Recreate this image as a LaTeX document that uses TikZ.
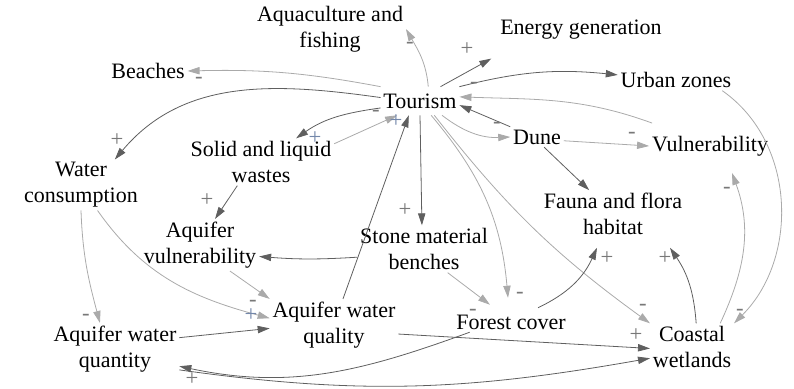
\documentclass[tikz,border=0pt]{standalone}
\usepackage{fontspec}
\setmainfont{Liberation Serif}
\usepackage{xcolor}
\usepackage{tikz}
\usetikzlibrary{
  arrows.meta
}

\begin{document}
\begin{tikzpicture}[
  x=0.75pt, y=0.75pt,
  every node/.style={font=\fontsize{16.5}{19.5}\selectfont},
  var/.style={align=center, inner sep=2pt},
  dark/.style={draw=cDark, line width=0.6pt, -{Triangle[length=9pt,width=5.5pt]}},
  light/.style={draw=cLight, line width=0.6pt, -{Triangle[length=9pt,width=5.5pt]}},
  sgn/.style={font=\fontsize{17}{17}\selectfont, text=cSign, inner sep=0pt},
  sgnb/.style={sgn, text=cSignB}
]
  % colours of links and polarity signs
  \definecolor{cDark}{RGB}{95,95,95}
  \definecolor{cLight}{RGB}{170,170,170}
  \definecolor{cSign}{RGB}{120,120,120}
  \definecolor{cSignB}{RGB}{115,135,170}

  \useasboundingbox (0,0) rectangle (794,389);

  % variables
  \node[var] (aqua) at (330,360) {Aquaculture and\\fishing};
  \node[var] (energy) at (581,359) {Energy generation};
  \node[var] (beach) at (148,318) {Beaches};
  \node[var] (urban) at (676,309) {Urban zones};
  \node[var, inner ysep=5pt] (tour) at (420,288) {Tourism};
  \node[var] (waste) at (261,227) {Solid and liquid\\wastes};
  \node[var] (water) at (81,204) {Water\\consumption};
  \node[var] (dune) at (537,252) {Dune};
  \node[var] (vuln) at (710,243) {Vulnerability};
  \node[var] (fauna) at (613,175) {Fauna and flora\\habitat};
  \node[var] (avul) at (200,144) {Aquifer\\vulnerability};
  \node[var] (stone) at (424,140) {Stone material\\benches};
  \node[var] (aqual) at (334,64) {Aquifer water\\quality};
  \node[var] (aquan) at (115,40) {Aquifer water\\quantity};
  \node[var] (forest) at (511,67) {Forest cover};
  \node[var] (coast) at (692,42) {Coastal\\wetlands};

  % links out of Tourism
  \draw[light] (tour.60) to[out=95,in=-60] (aqua.east);
  \draw[dark] (tour.35) -- ([shift={(-6,-16)}]energy.south west);
  \draw[light] (tour.north west) to[bend right=6] (beach.east);
  \draw[dark] (tour.175) to[out=172,in=50] (water.37);
  \draw[dark] (tour.190) to[out=188,in=35] (waste.34);
  \draw[dark] (tour.north east) to[bend left=10] (urban.175);
  \draw[light] (tour.-33) to[bend right=20] (dune.west);
  \draw[dark] (tour.south) -- (stone.95);
  \draw[light] (tour.-52) to[out=-50,in=95] ([shift={(-3,14)}]forest.north);
  \draw[light] (tour.-45) to[bend right=8] (coast.north west);

  % links into Tourism
  \draw[light] (waste.14) -- (tour.212);
  \draw[light] ([shift={(3,10)}]vuln.north west) to[out=160,in=-2] (tour.6);
  \draw[dark] (dune.north west) -- (tour.-6);
  \draw[dark] (aqual.71) -- (tour.-128);

  % other links
  \draw[dark] (dune.-55) -- (fauna.135);
  \draw[light] (dune.-8) -- (vuln.west);
  \draw[dark] (stone.187) to[bend left=4] (avul.-11);
  \draw[light] (stone.-45) -- ([shift={(-21,7)}]forest.north);
  \draw[dark] (waste.-135) -- (avul.60);
  \draw[light] (water.south) to[out=-88,in=105] (aquan.120);
  \draw[light] (water.-57) to[out=-55,in=165] (aqual.174);
  \draw[light] (avul.-41) -- (aqual.north west);
  \draw[dark] (aquan.10) -- (aqual.183);
  \draw[dark] (aqual.-8) -- (coast.182);
  \draw[dark] ([xshift=-31]forest.south) to[out=200,in=-12] (aquan.-15);
  \draw[dark] (aquan.-18) to[out=-8,in=190] (coast.195);
  \draw[dark] ([shift={(27,4)}]forest.north) to[bend right=20] ([shift={(-16,-10)}]fauna.south);
  \draw[dark] (coast.80) to[bend right=15] ([shift={(57,-10)}]fauna.south);
  \draw[light] (coast.40) to[out=65,in=-70] ([shift={(22,-14)}]vuln.south);
  \draw[light] (urban.-13) to[out=-35,in=45] (coast.north east);

  % polarity signs
  \node[sgn] (sAqua) at (410,344) {-};
  \node[sgn] (sEnergy) at (467,340) {+};
  \node[sgn] (sUrban) at (474,304) {-};
  \node[sgn] (sBeach) at (199,309) {-};
  \node[sgn] (sWasteA) at (376,276) {-};
  \node[sgnb] (sTourA) at (396,268) {+};
  \node[sgnb] (sTourB) at (315,251) {+};
  \node[sgn] (sWater) at (117,249) {+};
  \node[sgn] (sAvulA) at (207,189) {+};
  \node[sgn] (sDune) at (497,264) {-};
  \node[sgn] (sVulnA) at (632,254) {-};
  \node[sgn] (sVulnB) at (727,199) {-};
  \node[sgn] (sStone) at (405,179) {+};
  \node[sgn] (sFaunaA) at (607,131) {+};
  \node[sgn] (sFaunaB) at (665,131) {+};
  \node[sgn] (sForestA) at (520,94) {-};
  \node[sgn] (sCoastA) at (643,82) {-};
  \node[sgn] (sCoastB) at (740,77) {-};
  \node[sgn] (sCoastC) at (636,54) {+};
  \node[sgn] (sForestB) at (473,77) {-};
  \node[sgn] (sAqualA) at (253,86) {-};
  \node[sgnb] (sAqualB) at (251,74) {+};
  \node[sgn] (sAquan) at (86,72) {-};
  \node[sgn] (sAquanB) at (192,10) {+};

\end{tikzpicture}
\end{document}
